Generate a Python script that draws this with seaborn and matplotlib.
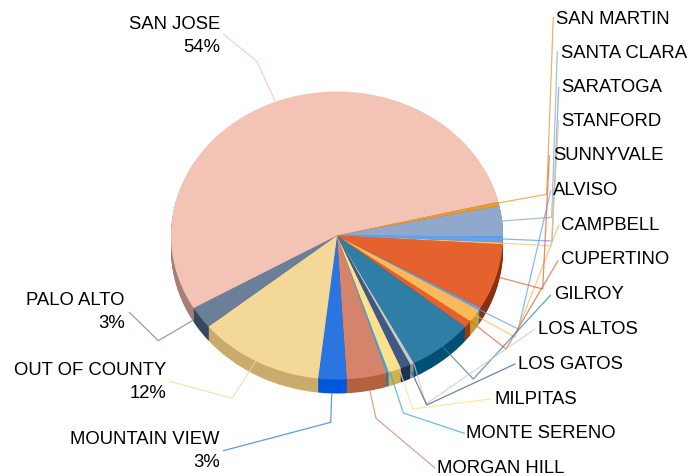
import matplotlib
matplotlib.use("Agg")
import matplotlib.pyplot as plt
import seaborn as sns

categories = ["ALVISO", "CAMPBELL", "CUPERTINO", "GILROY", "LOS ALTOS", "LOS GATOS",
              "MILPITAS", "MONTE SERENO", "MORGAN HILL", "MOUNTAIN VIEW", "OUT OF COUNTY",
              "PALO ALTO", "SAN JOSE", "SAN MARTIN", "SANTA CLARA", "SARATOGA",
              "STANFORD", "SUNNYVALE"]
shares = [0.3, 1.5, 0.8, 6.4, 0.36, 1.0, 1.25, 0.22, 3.9, 2.75, 12.3,
          2.5, 54.7, 0.47, 3.4, 0.67, 0.2, 7.4]
percent_labels = {"MOUNTAIN VIEW": "3%", "OUT OF COUNTY": "12%", "PALO ALTO": "3%", "SAN JOSE": "54%"}

top_colors = ["#5fa2f0", "#fbb95a", "#e5622f", "#2e7ea6", "#c9c9c9", "#3d5a85",
              "#fde08e", "#38a8e0", "#d5836a", "#2b75e0", "#f3d898",
              "#6c7f98", "#f3c3b5", "#e89a30", "#8fa8cc", "#5fa2f0",
              "#fbc070", "#e5622f"]
side_colors = ["#2a60a8", "#c89a30", "#9a3a10", "#004f74", "#909090", "#1c3158",
               "#d0b050", "#1080b8", "#b5613f", "#0058d8", "#c9ab6c",
               "#37465f", "#a87f75", "#a86a10", "#6078a0", "#2a60a8",
               "#c89040", "#8a3010"]

# pixel layout of the original picture
cx, cy = 337, 236.5
rx, ry = 166, 144
depth = 14
start_angle = -30.1

# label: text x, text y, line points
leaders = {
    "SAN MARTIN": (556, 19, [(498, 204), (546.7, 195.3), (553.3, 18.3)]),
    "SANTA CLARA": (561, 53, [(501.5, 222), (551.7, 218.3), (557.3, 52.7)]),
    "SARATOGA": (561, 87, [(502.7, 240), (552, 242), (558.7, 88.3)]),
    "STANFORD": (561, 122, [(502.7, 244.3), (551.3, 246.7), (558.7, 121.7)]),
    "SUNNYVALE": (553, 156, [(500, 278.5), (542.7, 290), (549.3, 156.7)]),
    "ALVISO": (553, 191, [(479, 310.5), (518.3, 330), (550.7, 191.7)]),
    "CAMPBELL": (561, 226, [(473, 315), (515, 338), (558.7, 226)]),
    "CUPERTINO": (561, 260, [(470, 321.7), (506, 350), (558, 261.7)]),
    "GILROY": (554, 295, [(443, 348), (473.3, 380), (550.7, 296)]),
    "LOS ALTOS": (538, 330, [(414, 365), (426, 405), (535, 330)]),
    "LOS GATOS": (518, 365, [(411.7, 373), (426.7, 406), (515, 365)]),
    "MILPITAS": (494, 400, [(400, 372), (412.7, 410), (490, 400)]),
    "MONTE SERENO": (466, 434, [(390, 373), (403.3, 414), (464.3, 434.3)]),
    "MORGAN HILL": (437, 469, [(370, 392), (376, 419.3), (435, 469)]),
    "MOUNTAIN VIEW": (220, 451, [(331.7, 395), (330.7, 423.3), (223.3, 451.7)]),
    "OUT OF COUNTY": (166, 382, [(256, 361.7), (232.3, 399.3), (169.3, 382.3)]),
    "PALO ALTO": (125, 312, [(192.3, 321.7), (158.3, 341.7), (129.3, 313.3)]),
    "SAN JOSE": (220, 36, [(275, 101.7), (256.7, 62.3), (223.3, 35)]),
}

sns.set_theme(style="white")
plt.rcParams['font.family'] = ['Liberation Sans', 'DejaVu Sans']

fig = plt.figure(figsize=(6.88, 4.77), dpi=100)
ax = fig.add_axes([0, 0, 1, 1])

# side wall: same pie repeated downwards, then the top face
for step in range(depth, 0, -1):
    ax.pie(shares, colors=side_colors, startangle=start_angle, counterclock=False,
           center=(0, -step / ry), radius=1, wedgeprops={"linewidth": 0.5, "edgecolor": "none"})
ax.pie(shares, colors=top_colors, startangle=start_angle, counterclock=False,
       center=(0, 0), radius=1, wedgeprops={"linewidth": 0})
ax.set_aspect("auto")
ax.set_xlim(-cx / rx, (688 - cx) / rx)
ax.set_ylim(-(477 - cy) / ry, cy / ry)

overlay = fig.add_axes([0, 0, 1, 1], facecolor="none")
overlay.set_xlim(0, 688)
overlay.set_ylim(477, 0)
overlay.axis("off")

for name, color in zip(categories, top_colors):
    tx, ty, pts = leaders[name]
    overlay.plot([p[0] for p in pts], [p[1] for p in pts], color=color, lw=0.9, alpha=0.75,
                 solid_joinstyle="miter")
    if name in percent_labels:
        overlay.text(tx, ty, name + "\n" + percent_labels[name], ha="right", va="center",
                     multialignment="right", fontsize=13.3, color="black", linespacing=1.42)
    else:
        overlay.text(tx, ty, name, ha="left", va="center", fontsize=13.3, color="black")

fig.savefig("out.png", dpi=100)
